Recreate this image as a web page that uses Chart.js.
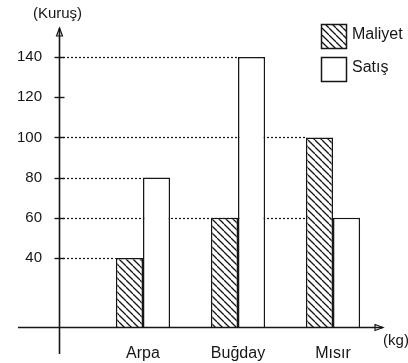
<!DOCTYPE html>
<html>
<head>
<meta charset="utf-8">
<script src="https://cdn.jsdelivr.net/npm/chart.js@4"></script>
<style>
    html, body { margin: 0; padding: 0; background: #fff; }
    #wrap { width: 408px; height: 363px; }
</style>
</head>
<body>
<div id="wrap"><canvas id="myChart"></canvas></div>
<script>
let categories = ['Arpa', 'Buğday', 'Mısır'];
let maliyet = [40, 60, 100];
let satis = [80, 140, 60];
let yTicks = [40, 60, 80, 100, 120, 140];

let yTitle = '(Kuruş)';
let xTitle = '(kg)';
let fontFamily = '"Liberation Sans", Arial, sans-serif';
let ink = '#161616';

const canvas = document.getElementById('myChart');

// diagonal hatching for the cost bars
function makeHatch() {
    let s = 7;
    let c = document.createElement('canvas');
    c.width = s;
    c.height = s;
    let g = c.getContext('2d');
    g.fillStyle = '#fff';
    g.fillRect(0, 0, s, s);
    g.strokeStyle = ink;
    g.lineWidth = 1.3;
    [-s, 0, s].forEach(o => {
        g.beginPath();
        g.moveTo(o, 0);
        g.lineTo(o + s, s);
        g.stroke();
    });
    return canvas.getContext('2d').createPattern(c, 'repeat');
}

const hatch = makeHatch();

// dotted guide lines run from the axis to the last bar that has that value,
// then axes with arrows, tick marks, titles and the legend box
const drawAxes = {
    id: 'drawAxes',
    beforeDatasetsDraw(chart) {
        const ctx = chart.ctx;
        const area = chart.chartArea;
        const y = chart.scales.y;
        ctx.save();
        ctx.strokeStyle = ink;
        ctx.lineWidth = 1.2;
        ctx.setLineDash([2, 2]);
        yTicks.forEach(v => {
            let end = null;
            chart.data.datasets.forEach((ds, d) => {
                chart.getDatasetMeta(d).data.forEach((bar, i) => {
                    if (ds.data[i].y === v) {
                        let left = bar.x - bar.width / 2;
                        if (end === null || left > end) end = left;
                    }
                });
            });
            if (end === null) return;
            let py = Math.round(y.getPixelForValue(v)) + 0.5;
            ctx.beginPath();
            ctx.moveTo(area.left, py);
            ctx.lineTo(end, py);
            ctx.stroke();
        });
        ctx.restore();
    },
    afterDatasetsDraw(chart) {
        const ctx = chart.ctx;
        const area = chart.chartArea;
        const y = chart.scales.y;
        const ax = Math.round(area.left) + 0.5;
        const ay = Math.round(area.bottom) + 0.5;
        ctx.save();
        ctx.strokeStyle = ink;
        ctx.fillStyle = ink;
        ctx.lineWidth = 1.6;

        // y axis
        ctx.beginPath();
        ctx.moveTo(ax, area.bottom + 27);
        ctx.lineTo(ax, area.top);
        ctx.stroke();
        ctx.lineWidth = 1.2;
        ctx.beginPath();
        ctx.moveTo(ax - 3, area.top + 8);
        ctx.lineTo(ax, area.top);
        ctx.lineTo(ax + 3, area.top + 8);
        ctx.closePath();
        ctx.stroke();

        // x axis
        ctx.lineWidth = 1.6;
        ctx.beginPath();
        ctx.moveTo(area.left - 41, ay);
        ctx.lineTo(area.right, ay);
        ctx.stroke();
        ctx.lineWidth = 1.2;
        ctx.beginPath();
        ctx.moveTo(area.right - 8, ay - 3);
        ctx.lineTo(area.right, ay);
        ctx.lineTo(area.right - 8, ay + 3);
        ctx.closePath();
        ctx.stroke();

        // tick marks crossing the y axis
        ctx.lineWidth = 1.4;
        yTicks.forEach(v => {
            let py = Math.round(y.getPixelForValue(v)) + 0.5;
            ctx.beginPath();
            ctx.moveTo(ax - 5, py);
            ctx.lineTo(ax + 5, py);
            ctx.stroke();
        });

        // axis titles
        ctx.font = '15px ' + fontFamily;
        ctx.textAlign = 'center';
        ctx.textBaseline = 'middle';
        ctx.fillText(yTitle, ax - 2, area.top - 14);
        ctx.fillText(xTitle, area.right + 13, ay + 13);

        // legend
        const lx = 321;
        const ly = [24, 57];
        ctx.font = '16px ' + fontFamily;
        ctx.textAlign = 'left';
        chart.data.datasets.forEach((ds, d) => {
            ctx.fillStyle = ds.backgroundColor;
            ctx.fillRect(lx, ly[d], 25, 24);
            ctx.lineWidth = 1.5;
            ctx.strokeStyle = ink;
            ctx.strokeRect(lx + 0.5, ly[d] + 0.5, 25, 24);
            ctx.fillStyle = ink;
            ctx.fillText(ds.label, lx + 31, ly[d] + 11);
        });
        ctx.restore();
    }
};

new Chart(canvas, {
    type: 'bar',
    data: {
        datasets: [{
            label: 'Maliyet',
            data: maliyet.map((v, i) => ({ x: i + 1, y: v })),
            backgroundColor: hatch,
            borderColor: ink,
            borderWidth: 1.5
        }, {
            label: 'Satış',
            data: satis.map((v, i) => ({ x: i + 1, y: v })),
            backgroundColor: '#fff',
            borderColor: ink,
            borderWidth: 1.5
        }]
    },
    options: {
        responsive: true,
        maintainAspectRatio: false,
        animation: false,
        barPercentage: 1,
        categoryPercentage: 0.57,
        layout: {
            padding: { top: 28, right: 25, left: 0, bottom: 0 }
        },
        plugins: {
            legend: { display: false },
            tooltip: { enabled: false }
        },
        scales: {
            x: {
                type: 'linear',
                offset: false,
                min: 0.116,
                max: 3.526,
                afterBuildTicks: scale => {
                    scale.ticks = categories.map((c, i) => ({ value: i + 1 }));
                },
                afterFit: scale => { scale.height = 36; },
                grid: { display: false, offset: false },
                border: { display: false },
                ticks: {
                    color: ink,
                    padding: 9,
                    font: { size: 16, family: fontFamily },
                    callback: v => categories[v - 1]
                }
            },
            y: {
                min: 5.7,
                max: 154.4,
                afterBuildTicks: scale => {
                    scale.ticks = yTicks.map(v => ({ value: v }));
                },
                afterFit: scale => { scale.width = 59; },
                grid: { display: false },
                border: { display: false },
                ticks: {
                    color: ink,
                    padding: 9,
                    font: { size: 15, family: fontFamily }
                }
            }
        }
    },
    plugins: [drawAxes]
});
</script>
</body>
</html>
